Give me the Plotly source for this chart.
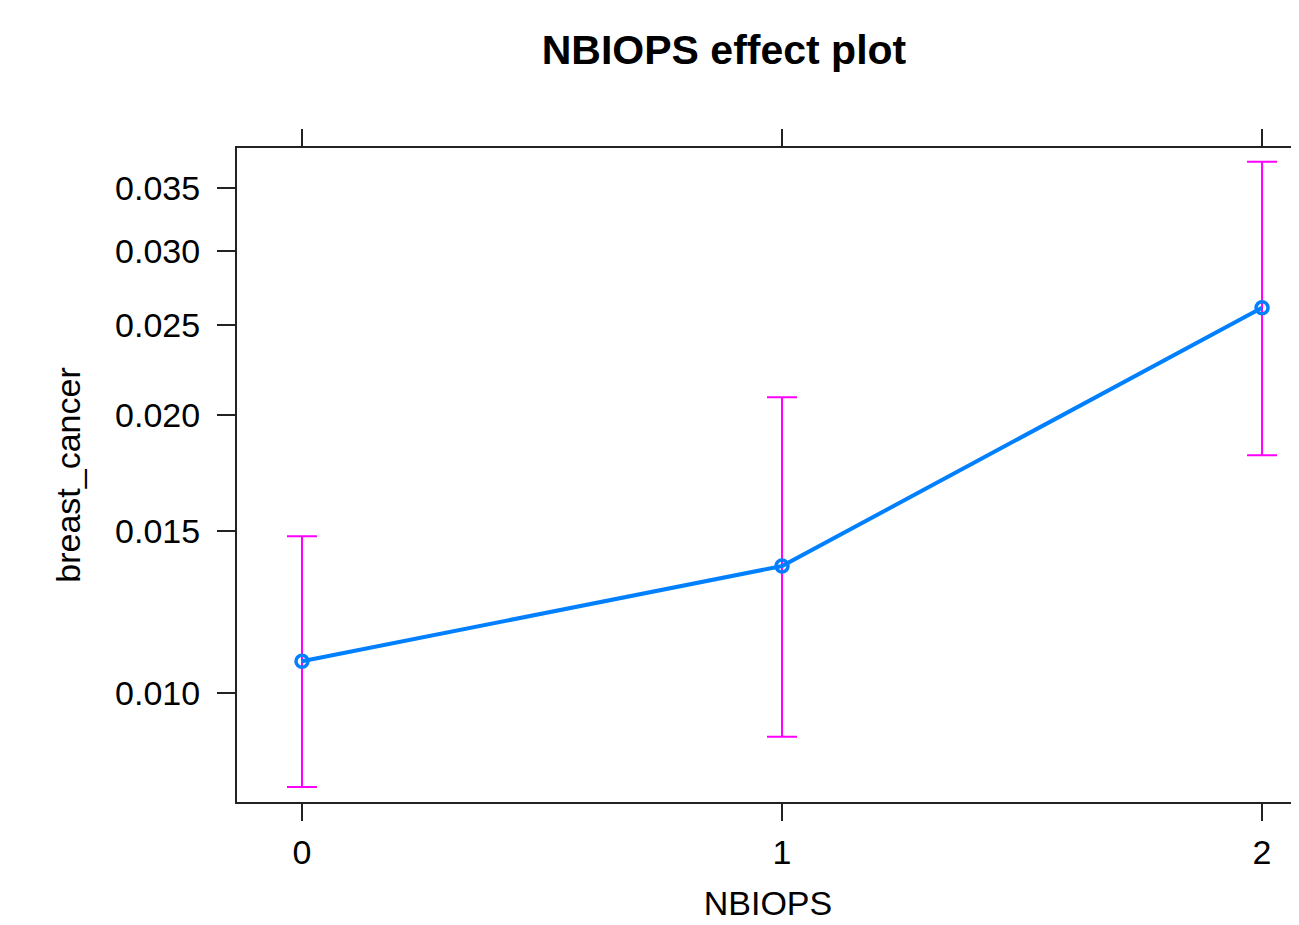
import numpy as np
import plotly.graph_objects as go

# Data (probability scale)
nbiops = [0, 1, 2]
fit = [0.01083, 0.01374, 0.02610]
lower = [0.00790, 0.00896, 0.01811]
upper = [0.01480, 0.02092, 0.03734]

y_tick_values = [0.010, 0.015, 0.020, 0.025, 0.030, 0.035]
y_tick_labels = ["0.010", "0.015", "0.020", "0.025", "0.030", "0.035"]
x_tick_labels = ["0", "1", "2"]


def logit(p):
    p = np.asarray(p, dtype=float)
    return np.log(p / (1 - p))


lf = logit(fit)
ll = logit(lower)
lu = logit(upper)

FONT = "Liberation Sans, Arial, Helvetica, sans-serif"
AX = "#222222"

# the page body has an 8px margin; figure sized so it fills the window
W, H = 1291, 917
OFF = 8

fig = go.Figure()

# confidence intervals
fig.add_trace(go.Scatter(
    x=nbiops, y=lf, mode="markers",
    marker=dict(size=1, color="rgba(0,0,0,0)"),
    error_y=dict(type="data", symmetric=False,
                 array=(lu - lf).tolist(), arrayminus=(lf - ll).tolist(),
                 color="#FF00FF", thickness=2, width=15),
    hoverinfo="skip", showlegend=False,
))

# fitted effect
fig.add_trace(go.Scatter(
    x=nbiops, y=lf, mode="lines+markers",
    line=dict(color="#0080FF", width=4),
    marker=dict(symbol="circle-open", size=12, color="#0080FF",
                line=dict(width=3.5, color="#0080FF")),
    showlegend=False,
))

fig.update_layout(
    width=W, height=H,
    margin=dict(l=237 - OFF, r=0, t=148 - OFF, b=925 - 802, pad=0),
    paper_bgcolor="white", plot_bgcolor="white",
    font=dict(family=FONT, size=34, color="black"),
    title=dict(text="<b>NBIOPS effect plot</b>", x=(724 - OFF) / W, xref="container",
               xanchor="center", y=1 - (50 - OFF) / H, yanchor="middle",
               font=dict(family=FONT, size=41, color="black")),
    xaxis=dict(
        range=[-0.1354, 2.077], tickvals=nbiops, ticktext=x_tick_labels,
        showgrid=False, zeroline=False,
        showline=True, linecolor=AX, linewidth=2, mirror="ticks",
        ticks="outside", ticklen=17, tickwidth=2, tickcolor=AX,
        ticklabelstandoff=2,
        tickfont=dict(size=34, color="black"),
        title=dict(text="NBIOPS", standoff=21, font=dict(size=34, color="black")),
    ),
    yaxis=dict(
        range=[-4.871, -3.215],
        tickvals=logit(y_tick_values).tolist(), ticktext=y_tick_labels,
        showgrid=False, zeroline=False,
        showline=True, linecolor=AX, linewidth=2, mirror=False,
        ticks="outside", ticklen=18, tickwidth=2, tickcolor=AX,
        ticklabelstandoff=10,
        tickfont=dict(size=34, color="black"),
        title=dict(text="breast_cancer", standoff=24, font=dict(size=34, color="black")),
    ),
)

fig.write_html("out.html")
